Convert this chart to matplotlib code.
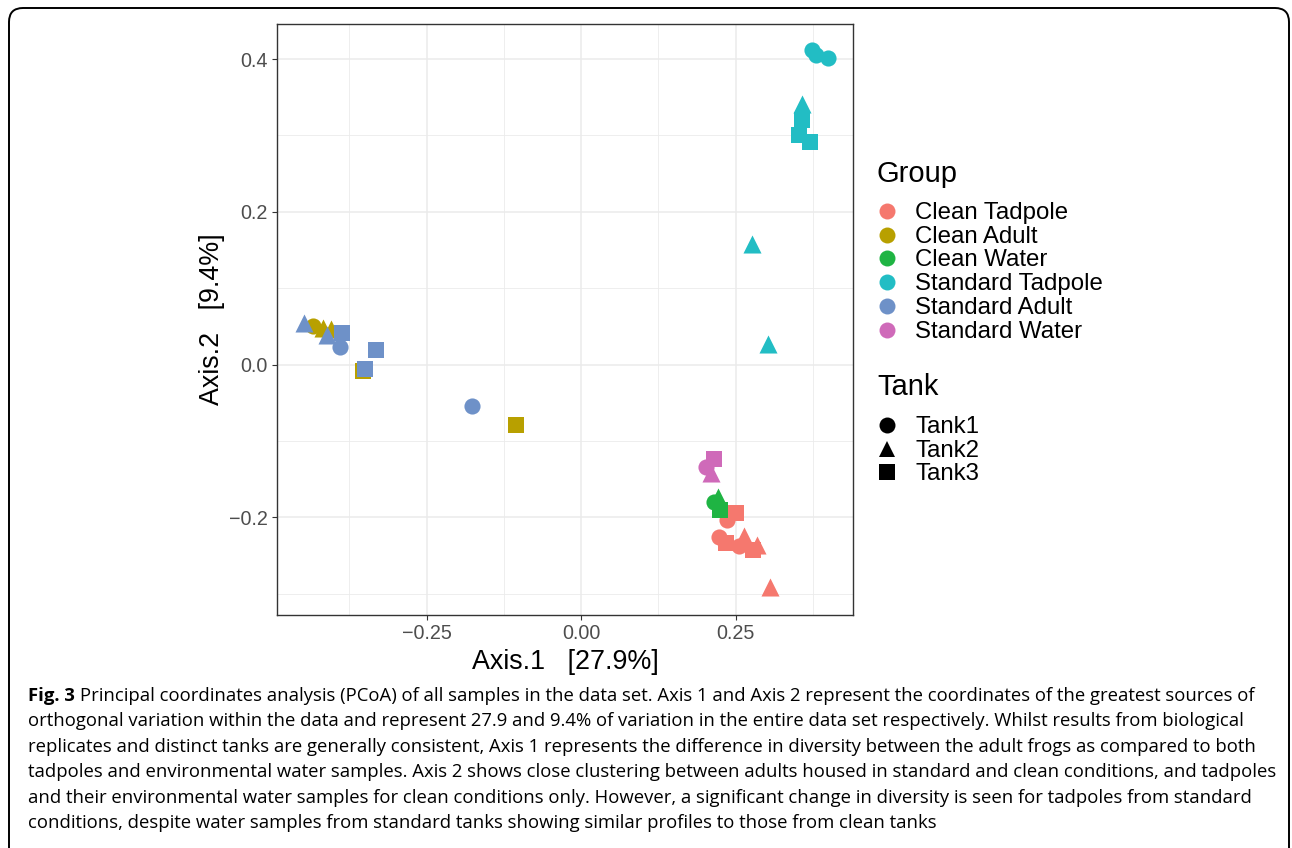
import numpy as np
import matplotlib
matplotlib.use("Agg")
import matplotlib.pyplot as plt
from matplotlib.lines import Line2D
from matplotlib.patches import FancyBboxPatch
from matplotlib.transforms import IdentityTransform

# PCoA coordinates
groups = ["Clean Tadpole", "Clean Adult", "Clean Water",
          "Standard Tadpole", "Standard Adult", "Standard Water"]
colors = ["#F5786E", "#B8A000", "#1FB443", "#22BDC4", "#6E91C8", "#CF6AB9"]
tanks = ["Tank1", "Tank2", "Tank3"]
shapes = ["o", "^", "s"]

# per group: x values, y values, tank index
clean_tadpole_x = [0.237, 0.224, 0.256, 0.264, 0.284, 0.306, 0.251, 0.235, 0.278]
clean_tadpole_y = [-0.203, -0.226, -0.238, -0.225, -0.236, -0.291, -0.194, -0.234, -0.243]
clean_tadpole_t = [0, 0, 0, 1, 1, 1, 2, 2, 2]

clean_adult_x = [-0.434, -0.417, -0.405, -0.352, -0.105]
clean_adult_y = [0.050, 0.048, 0.047, -0.009, -0.079]
clean_adult_t = [0, 1, 1, 2, 2]

clean_water_x = [0.215, 0.221, 0.225]
clean_water_y = [-0.180, -0.174, -0.190]
clean_water_t = [0, 1, 2]

standard_tadpole_x = [0.373, 0.381, 0.399, 0.358, 0.277, 0.303, 0.357, 0.352, 0.371]
standard_tadpole_y = [0.412, 0.406, 0.401, 0.341, 0.158, 0.027, 0.320, 0.301, 0.292]
standard_tadpole_t = [0, 0, 0, 1, 1, 1, 2, 2, 2]

standard_adult_x = [-0.390, -0.176, -0.449, -0.411, -0.387, -0.331, -0.349]
standard_adult_y = [0.023, -0.054, 0.055, 0.039, 0.041, 0.019, -0.006]
standard_adult_t = [0, 0, 1, 1, 2, 2, 2]

standard_water_x = [0.202, 0.211, 0.215]
standard_water_y = [-0.134, -0.142, -0.124]
standard_water_t = [0, 1, 2]

data = [
    (clean_tadpole_x, clean_tadpole_y, clean_tadpole_t),
    (clean_adult_x, clean_adult_y, clean_adult_t),
    (clean_water_x, clean_water_y, clean_water_t),
    (standard_tadpole_x, standard_tadpole_y, standard_tadpole_t),
    (standard_adult_x, standard_adult_y, standard_adult_t),
    (standard_water_x, standard_water_y, standard_water_t),
]

caption_lines = [
    "Principal coordinates analysis (PCoA) of all samples in the data set. Axis 1 and Axis 2 represent the coordinates of the greatest sources of",
    "orthogonal variation within the data and represent 27.9 and 9.4% of variation in the entire data set respectively. Whilst results from biological",
    "replicates and distinct tanks are generally consistent, Axis 1 represents the difference in diversity between the adult frogs as compared to both",
    "tadpoles and environmental water samples. Axis 2 shows close clustering between adults housed in standard and clean conditions, and tadpoles",
    "and their environmental water samples for clean conditions only. However, a significant change in diversity is seen for tadpoles from standard",
    "conditions, despite water samples from standard tanks showing similar profiles to those from clean tanks",
]

plt.rcParams["font.family"] = ["Liberation Sans", "DejaVu Sans"]

W, H = 1292, 848
fig = plt.figure(figsize=(W / 100, H / 100), dpi=100)
ax = fig.add_axes([277 / W, 1 - 615 / H, (853 - 277) / W, (615 - 24) / H])

size = 135
for (xs, ys, ts), col in zip(data, colors):
    xs, ys, ts = np.array(xs), np.array(ys), np.array(ts)
    for k, m in enumerate(shapes):
        sel = ts == k
        if sel.any():
            ax.scatter(xs[sel], ys[sel], marker=m, s=size * (1.25 if m == "^" else 1.0),
                       color=col, linewidths=0, zorder=3)

ax.set_xlim(-0.4919, 0.4401)
ax.set_ylim(-0.328, 0.446)
ax.set_xticks([-0.25, 0.0, 0.25])
ax.set_xticklabels(["\u22120.25", "0.00", "0.25"])
ax.set_yticks([-0.2, 0.0, 0.2, 0.4])
ax.set_yticklabels(["\u22120.2", "0.0", "0.2", "0.4"])
ax.set_xticks([-0.375, -0.125, 0.125, 0.375], minor=True)
ax.set_yticks([-0.3, -0.1, 0.1, 0.3], minor=True)
ax.grid(which="major", color="#EBEBEB", linewidth=1.1, zorder=0)
ax.grid(which="minor", color="#EBEBEB", linewidth=0.6, zorder=0)
ax.set_axisbelow(True)
ax.tick_params(which="major", length=3.5, width=0.8, color="#333333",
               labelsize=14.2, labelcolor="#4D4D4D", pad=3)
ax.tick_params(which="minor", length=0)
for sp in ax.spines.values():
    sp.set_color("#333333")
    sp.set_linewidth(1.0)
ax.set_xlabel("Axis.1   [27.9%]", fontsize=19.4, color="black", labelpad=4)
ax.set_ylabel("Axis.2   [9.4%]", fontsize=19.4, color="black", labelpad=3)

# legends drawn by hand in pixel positions
def px(x, y):
    return x / W, 1 - y / H

fig.text(*px(877, 174), "Group", fontsize=21, va="center", ha="left")
for i, (g, col) in enumerate(zip(groups, colors)):
    y = 211 + i * 23.7
    fig.add_artist(Line2D([887 / W], [1 - y / H], marker="o", markersize=11.5,
                          color=col, markeredgewidth=0, transform=fig.transFigure))
    fig.text(*px(915, y + 2), g, fontsize=17.3, va="center", ha="left")

fig.text(*px(877, 387), "Tank", fontsize=21, va="center", ha="left")
for i, (t, m) in enumerate(zip(tanks, shapes)):
    y = 425 + i * 23.7
    fig.add_artist(Line2D([887 / W], [1 - y / H], marker=m, markersize=11.5,
                          color="black", markeredgewidth=0, transform=fig.transFigure))
    fig.text(*px(915, y + 2), t, fontsize=17.3, va="center", ha="left")

# rounded frame
frame = FancyBboxPatch((9, -30), 1280, 870, boxstyle="round,pad=0,rounding_size=14",
                       transform=IdentityTransform(), facecolor="none",
                       edgecolor="black", linewidth=1.4)
fig.add_artist(frame)

# caption
cap_font = ["Open Sans", "DejaVu Sans"]
cap_size = 13.3
renderer = fig.canvas.get_renderer()
bold = fig.text(28 / W, 1 - 696 / H, "Fig. 3", fontsize=cap_size, fontweight="bold",
                family=cap_font, va="center", ha="left")
bb = bold.get_window_extent(renderer=renderer)
fig.text((bb.x1 + 5) / W, 1 - 696 / H, caption_lines[0], fontsize=cap_size,
         family=cap_font, va="center", ha="left")
for i, line in enumerate(caption_lines[1:], start=1):
    fig.text(28 / W, 1 - (696 + i * 25.4) / H, line, fontsize=cap_size,
             family=cap_font, va="center", ha="left")

fig.savefig("out.png", dpi=100)
